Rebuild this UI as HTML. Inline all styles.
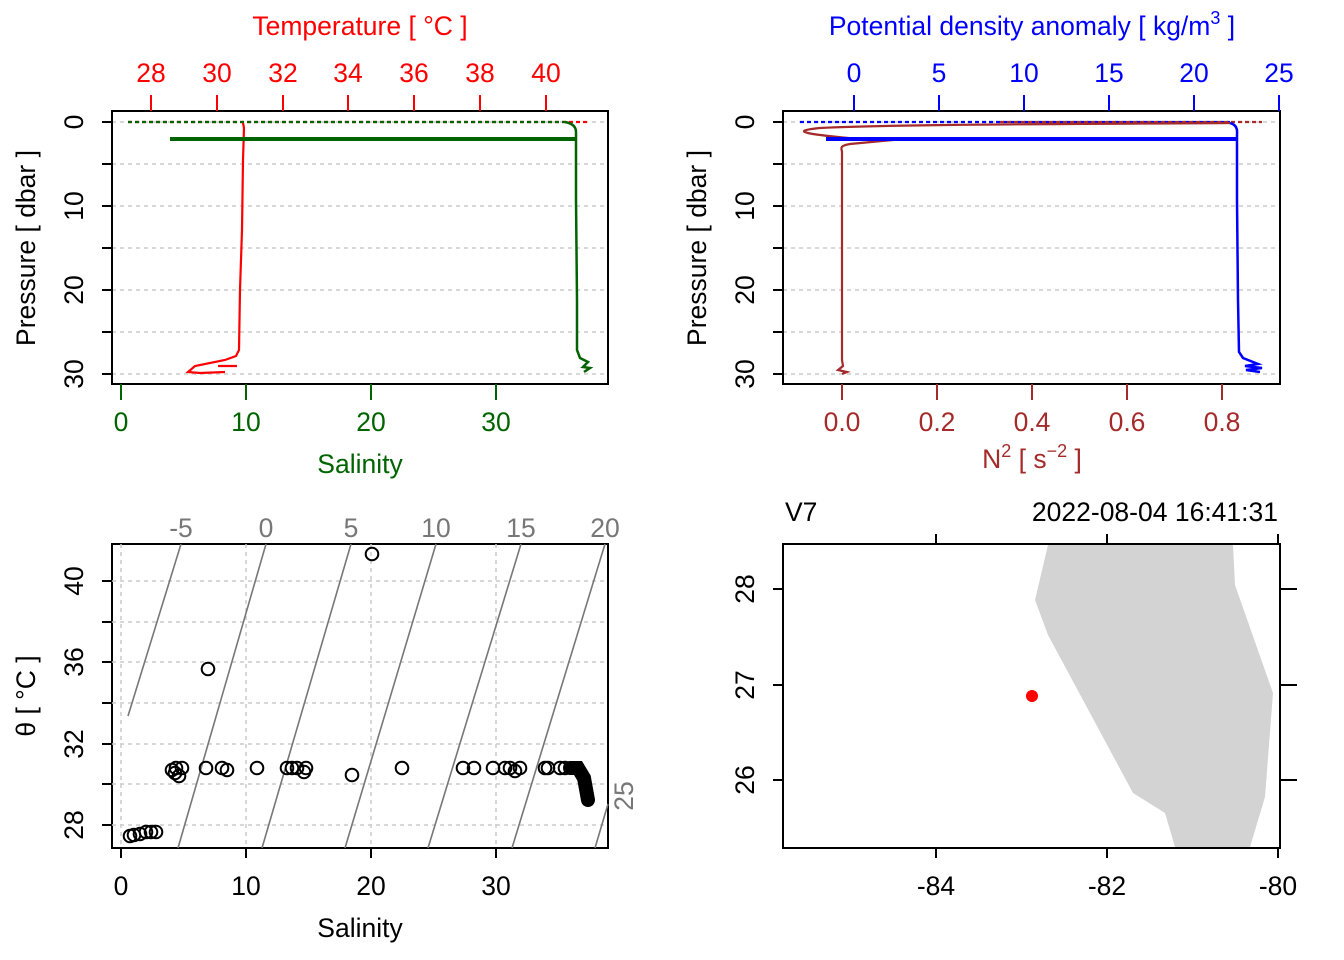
<!DOCTYPE html>
<html><head><style>body{margin:0;background:#fff}svg{display:block}text{font-family:"Liberation Sans",sans-serif;font-size:26.5px}</style></head><body>
<svg width="1344" height="960" viewBox="0 0 1344 960" xmlns="http://www.w3.org/2000/svg">
<g stroke="#ccc" stroke-width="1.5" stroke-dasharray="4,4">
<line x1="112" x2="608" y1="122" y2="122"/><line x1="112" x2="608" y1="164" y2="164"/><line x1="112" x2="608" y1="206" y2="206"/><line x1="112" x2="608" y1="248" y2="248"/><line x1="112" x2="608" y1="290" y2="290"/><line x1="112" x2="608" y1="332" y2="332"/><line x1="112" x2="608" y1="374" y2="374"/>
<line x1="783" x2="1280" y1="122" y2="122"/><line x1="783" x2="1280" y1="164" y2="164"/><line x1="783" x2="1280" y1="206" y2="206"/><line x1="783" x2="1280" y1="248" y2="248"/><line x1="783" x2="1280" y1="290" y2="290"/><line x1="783" x2="1280" y1="332" y2="332"/><line x1="783" x2="1280" y1="374" y2="374"/>
</g>
<g fill="none" stroke-width="2.2">
<line x1="128" y1="122" x2="590" y2="122" stroke="red" stroke-dasharray="4,3"/>
<line x1="128" y1="122" x2="565" y2="122" stroke="#006400" stroke-dasharray="4,3"/>
<path d="M243,123 L244,128 243,160 242,230 240,290 239,350 236,356 225,360 195,366 188,372 200,373 225,372 M218,366 L237,366" stroke="red"/>
<path d="M565,122 Q576,124 576,132 L576,200 577,300 577,350 580,358 588,362 583,367 590,368 584,372" stroke="#006400" stroke-width="2.5"/>
<line x1="170" y1="139" x2="577" y2="139" stroke="#006400" stroke-width="4"/>
<line x1="800" y1="122" x2="1230" y2="122" stroke="blue" stroke-dasharray="4,3"/>
<line x1="1000" y1="122" x2="1262" y2="122" stroke="#a52a2a" stroke-dasharray="4,3"/>
<path d="M1230,123 C1100,124 900,124 820,128 C790,131 800,134 870,140 L893,140 L850,144 C838,146 842,149 842,152 L842,360 843,366 838,370 847,372 842,374" stroke="#a52a2a"/>
<path d="M1230,123 Q1238,125 1237,134 L1237,200 1238,300 1239,352 1243,358 1258,364 1245,366 1262,368 1246,370 1260,372" stroke="blue" stroke-width="2.5"/>
<line x1="826" y1="139" x2="1238" y2="139" stroke="blue" stroke-width="4"/>
</g>
<g fill="none" stroke="#000" stroke-width="2">
<rect x="112" y="111" width="496" height="273"/><rect x="783" y="111" width="497" height="273"/>
<rect x="112" y="544" width="496" height="304"/><rect x="783" y="544" width="497" height="304"/>
<path d="M112,122h-10M112,164h-10M112,206h-10M112,248h-10M112,290h-10M112,332h-10M112,374h-10"/>
<path d="M783,122h-10M783,164h-10M783,206h-10M783,248h-10M783,290h-10M783,332h-10M783,374h-10"/>
<path d="M112,825h-10M112,784h-10M112,744h-10M112,703h-10M112,662h-10M112,622h-10M112,581h-10"/>
<path d="M121,848v10M246,848v10M371,848v10M496,848v10"/>
<path d="M936,848v10M1107,848v10M1278,848v10M936,544v-10M1107,544v-10M1278,544v-10"/>
<path d="M783,589h-10M783,685h-10M783,780h-10M1280,589h17M1280,685h17M1280,780h17"/>
</g>
<g stroke="red" stroke-width="2"><path d="M151,111v-16M217,111v-16M283,111v-16M348,111v-16M414,111v-16M480,111v-16M546,111v-16"/></g>
<g stroke="#006400" stroke-width="2"><path d="M121,384v16M246,384v16M371,384v16M496,384v16"/></g>
<g stroke="blue" stroke-width="2"><path d="M854,111v-16M939,111v-16M1024,111v-16M1109,111v-16M1194,111v-16M1279,111v-16"/></g>
<g stroke="#a52a2a" stroke-width="2"><path d="M842,384v16M937,384v16M1032,384v16M1127,384v16M1222,384v16"/></g>
<g fill="red" text-anchor="middle"><text x="151" y="82">28</text><text x="217" y="82">30</text><text x="283" y="82">32</text><text x="348" y="82">34</text><text x="414" y="82">36</text><text x="480" y="82">38</text><text x="546" y="82">40</text><text x="360" y="35">Temperature [ °C ]</text></g>
<g fill="#006400" text-anchor="middle"><text x="121" y="431">0</text><text x="246" y="431">10</text><text x="371" y="431">20</text><text x="496" y="431">30</text><text x="360" y="473">Salinity</text></g>
<g fill="blue" text-anchor="middle"><text x="854" y="82">0</text><text x="939" y="82">5</text><text x="1024" y="82">10</text><text x="1109" y="82">15</text><text x="1194" y="82">20</text><text x="1279" y="82">25</text><text x="1032" y="35">Potential density anomaly [ kg/m<tspan dy="-11" font-size="18">3</tspan><tspan dy="11"> ]</tspan></text></g>
<g fill="#a52a2a" text-anchor="middle"><text x="842" y="431">0.0</text><text x="937" y="431">0.2</text><text x="1032" y="431">0.4</text><text x="1127" y="431">0.6</text><text x="1222" y="431">0.8</text><text x="1032" y="468">N<tspan dy="-11" font-size="18">2</tspan><tspan dy="11"> [ s</tspan><tspan dy="-11" font-size="18">−2</tspan><tspan dy="11"> ]</tspan></text></g>
<g text-anchor="middle">
<text transform="translate(83,122) rotate(-90)">0</text><text transform="translate(83,206) rotate(-90)">10</text><text transform="translate(83,290) rotate(-90)">20</text><text transform="translate(83,374) rotate(-90)">30</text><text transform="translate(35,248) rotate(-90)">Pressure [ dbar ]</text>
<text transform="translate(754,122) rotate(-90)">0</text><text transform="translate(754,206) rotate(-90)">10</text><text transform="translate(754,290) rotate(-90)">20</text><text transform="translate(754,374) rotate(-90)">30</text><text transform="translate(706,248) rotate(-90)">Pressure [ dbar ]</text>
<text transform="translate(83,825) rotate(-90)">28</text><text transform="translate(83,744) rotate(-90)">32</text><text transform="translate(83,662) rotate(-90)">36</text><text transform="translate(83,581) rotate(-90)">40</text><text transform="translate(35,696) rotate(-90)">θ [ °C ]</text>
<text x="121" y="895">0</text><text x="246" y="895">10</text><text x="371" y="895">20</text><text x="496" y="895">30</text><text x="360" y="937">Salinity</text>
<text x="936" y="895">-84</text><text x="1107" y="895">-82</text><text x="1278" y="895">-80</text>
<text transform="translate(754,589) rotate(-90)">28</text><text transform="translate(754,685) rotate(-90)">27</text><text transform="translate(754,780) rotate(-90)">26</text>
</g>
<text x="785" y="521">V7</text><text x="1278" y="521" text-anchor="end">2022-08-04 16:41:31</text>
<g stroke="#ccc" stroke-width="1.5" stroke-dasharray="4,4">
<path d="M121,544v304M246,544v304M371,544v304M496,544v304"/>
<path d="M112,825h496M112,784h496M112,744h496M112,703h496M112,662h496M112,622h496M112,581h496"/>
</g>
<g stroke="#777" stroke-width="1.6" fill="none">
<path d="M128,716 L181,544"/><path d="M178,848 L266,544"/><path d="M262,848 L351,544"/><path d="M345,848 L436,544"/><path d="M428,848 L521,544"/><path d="M512,848 L605,544"/><path d="M595,848 L608,804"/>
</g>
<g fill="#777" text-anchor="middle" style="font-size:18px"><text x="181" y="537">-5</text><text x="266" y="537">0</text><text x="351" y="537">5</text><text x="436" y="537">10</text><text x="521" y="537">15</text><text x="605" y="537">20</text><text transform="translate(633,796) rotate(-90)">25</text></g>
<g fill="none" stroke="#000" stroke-width="2">
<circle cx="130" cy="836" r="6.3"/><circle cx="134" cy="835" r="6.3"/><circle cx="140" cy="834" r="6.3"/><circle cx="146" cy="832" r="6.3"/><circle cx="151" cy="832" r="6.3"/><circle cx="156" cy="832" r="6.3"/>
<circle cx="172" cy="770" r="6.3"/><circle cx="175" cy="773" r="6.3"/><circle cx="179" cy="776" r="6.3"/><circle cx="182" cy="768" r="6.3"/><circle cx="176" cy="768" r="6.3"/>
<circle cx="208" cy="669" r="6.3"/><circle cx="372" cy="554" r="6.3"/>
<circle cx="206" cy="768" r="6.3"/><circle cx="222" cy="768" r="6.3"/><circle cx="227" cy="770" r="6.3"/><circle cx="257" cy="768" r="6.3"/><circle cx="287" cy="768" r="6.3"/><circle cx="292" cy="768" r="6.3"/><circle cx="297" cy="768" r="6.3"/><circle cx="306" cy="768" r="6.3"/><circle cx="304" cy="772" r="6.3"/><circle cx="352" cy="775" r="6.3"/><circle cx="402" cy="768" r="6.3"/><circle cx="463" cy="768" r="6.3"/><circle cx="474" cy="768" r="6.3"/><circle cx="493" cy="768" r="6.3"/><circle cx="505" cy="768" r="6.3"/><circle cx="510" cy="768" r="6.3"/><circle cx="520" cy="768" r="6.3"/><circle cx="515" cy="771" r="6.3"/><circle cx="545" cy="768" r="6.3"/><circle cx="548" cy="768" r="6.3"/><circle cx="560" cy="768" r="6.3"/><circle cx="565" cy="768" r="6.3"/>
</g>
<path d="M570,768 L578,768 L584,778 L588,800" stroke="#000" stroke-width="14" stroke-linecap="round" fill="none"/>
<polygon points="1048,545 1035,600 1048,635 1133,793 1165,813 1175,847 1250,847 1265,797 1273,693 1235,585 1233,545" fill="#d3d3d3"/>
<rect x="783" y="544" width="497" height="304" fill="none" stroke="#000" stroke-width="2"/>
<circle cx="1032" cy="696" r="6" fill="red"/>
</svg>
</body></html>
